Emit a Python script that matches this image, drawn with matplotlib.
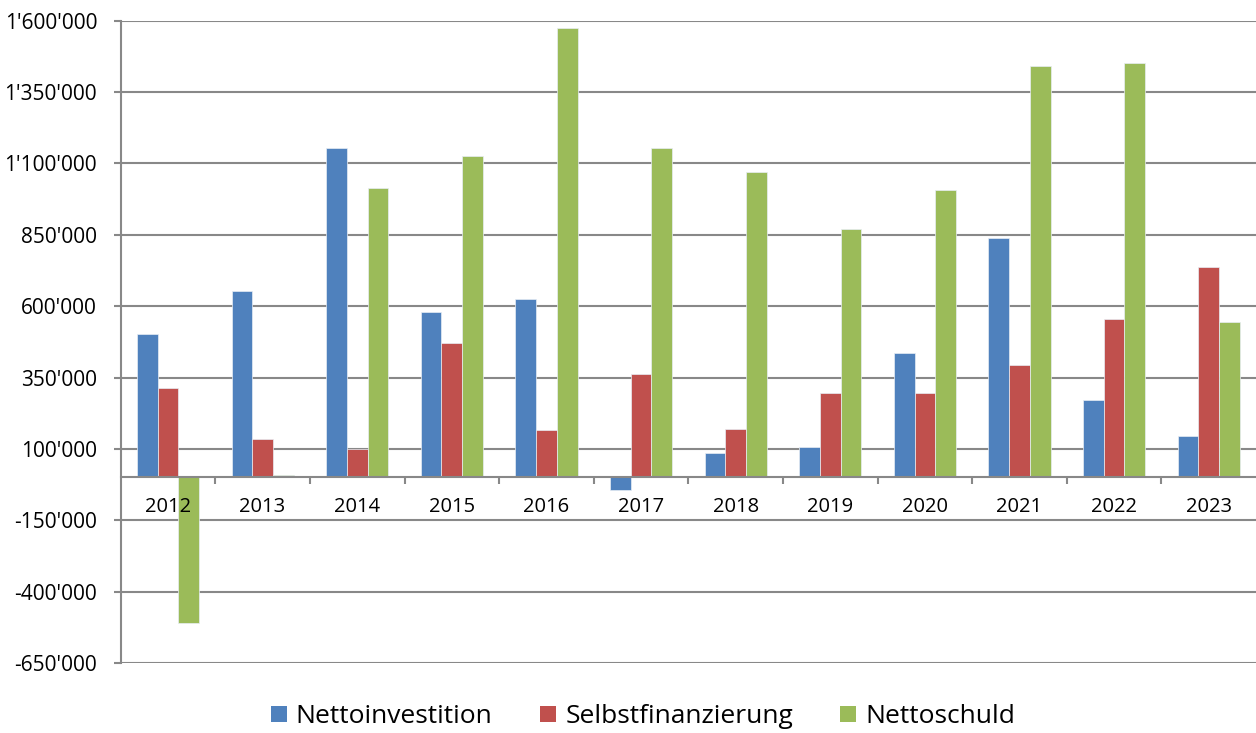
import numpy as np
import matplotlib
matplotlib.use("Agg")
import matplotlib.pyplot as plt
from matplotlib.patches import Patch
from matplotlib.ticker import FuncFormatter, FixedLocator

years = ["2012", "2013", "2014", "2015", "2016", "2017",
         "2018", "2019", "2020", "2021", "2022", "2023"]
nettoinvestition = [502000, 653000, 1154000, 580000, 625000, -44000,
                    85000, 106000, 436000, 839000, 272000, 146000]
selbstfinanzierung = [314000, 135000, 100000, 471000, 167000, 363000,
                      169000, 296000, 296000, 394000, 555000, 737000]
nettoschuld = [-511000, 10000, 1014000, 1126000, 1574000, 1154000,
               1070000, 870000, 1007000, 1441000, 1452000, 545000]
series_names = ["Nettoinvestition", "Selbstfinanzierung", "Nettoschuld"]
colors = ["#4F81BD", "#C0504D", "#9BBB59"]
yticks = list(range(-650000, 1600001, 250000))

plt.rcParams['font.family'] = ['Open Sans', 'DejaVu Sans']
grey = "#888888"

fig = plt.figure(figsize=(12.56, 7.33), dpi=100)
ax = fig.add_axes([0.0961, 0.0955, 0.9039, 0.8763])

# gridlines under the bars, axis labels (zorder 1.5) above them
for v in yticks:
    ax.axhline(v, color=grey, linewidth=1.5, zorder=1)

x = np.arange(len(years))
w = 0.219
for i, (vals, c) in enumerate(zip([nettoinvestition, selbstfinanzierung, nettoschuld], colors)):
    ax.bar(x + (i - 1) * w, vals, width=w, color=c, edgecolor="#e8eef5", linewidth=0.5, zorder=1.2)

ax.set_xlim(-0.5, len(years) - 0.5)
ax.set_ylim(-650000, 1600000)
ax.set_yticks(yticks)
ax.yaxis.set_major_formatter(FuncFormatter(lambda v, p: f"{int(v):,}".replace(",", "'")))
ax.tick_params(axis="y", length=5, width=1.5, color=grey, pad=12, labelsize=15)

# category axis at zero
ax.spines["bottom"].set_position(("data", 0))
ax.spines["bottom"].set_color(grey)
ax.spines["bottom"].set_linewidth(1.5)
ax.spines["left"].set_color(grey)
ax.spines["left"].set_linewidth(1.5)
ax.spines["top"].set_visible(False)
ax.spines["right"].set_visible(False)
ax.set_xticks(x)
ax.set_xticklabels(years)
ax.tick_params(axis="x", which="major", length=0, pad=14, labelsize=14.5)
ax.xaxis.set_minor_locator(FixedLocator(np.arange(0.5, len(years) - 1, 1.0)))
ax.tick_params(axis="x", which="minor", length=5, width=1.5, color=grey, direction="out")

handles = [Patch(facecolor=c, edgecolor="none") for c in colors]
fig.legend(handles, series_names, loc="center", bbox_to_anchor=(0.512, 0.022),
           ncol=3, frameon=False, fontsize=19,
           handlelength=0.6, handleheight=0.6,
           handletextpad=0.35, columnspacing=1.8, borderaxespad=0)

fig.savefig("out.png", dpi=100)
